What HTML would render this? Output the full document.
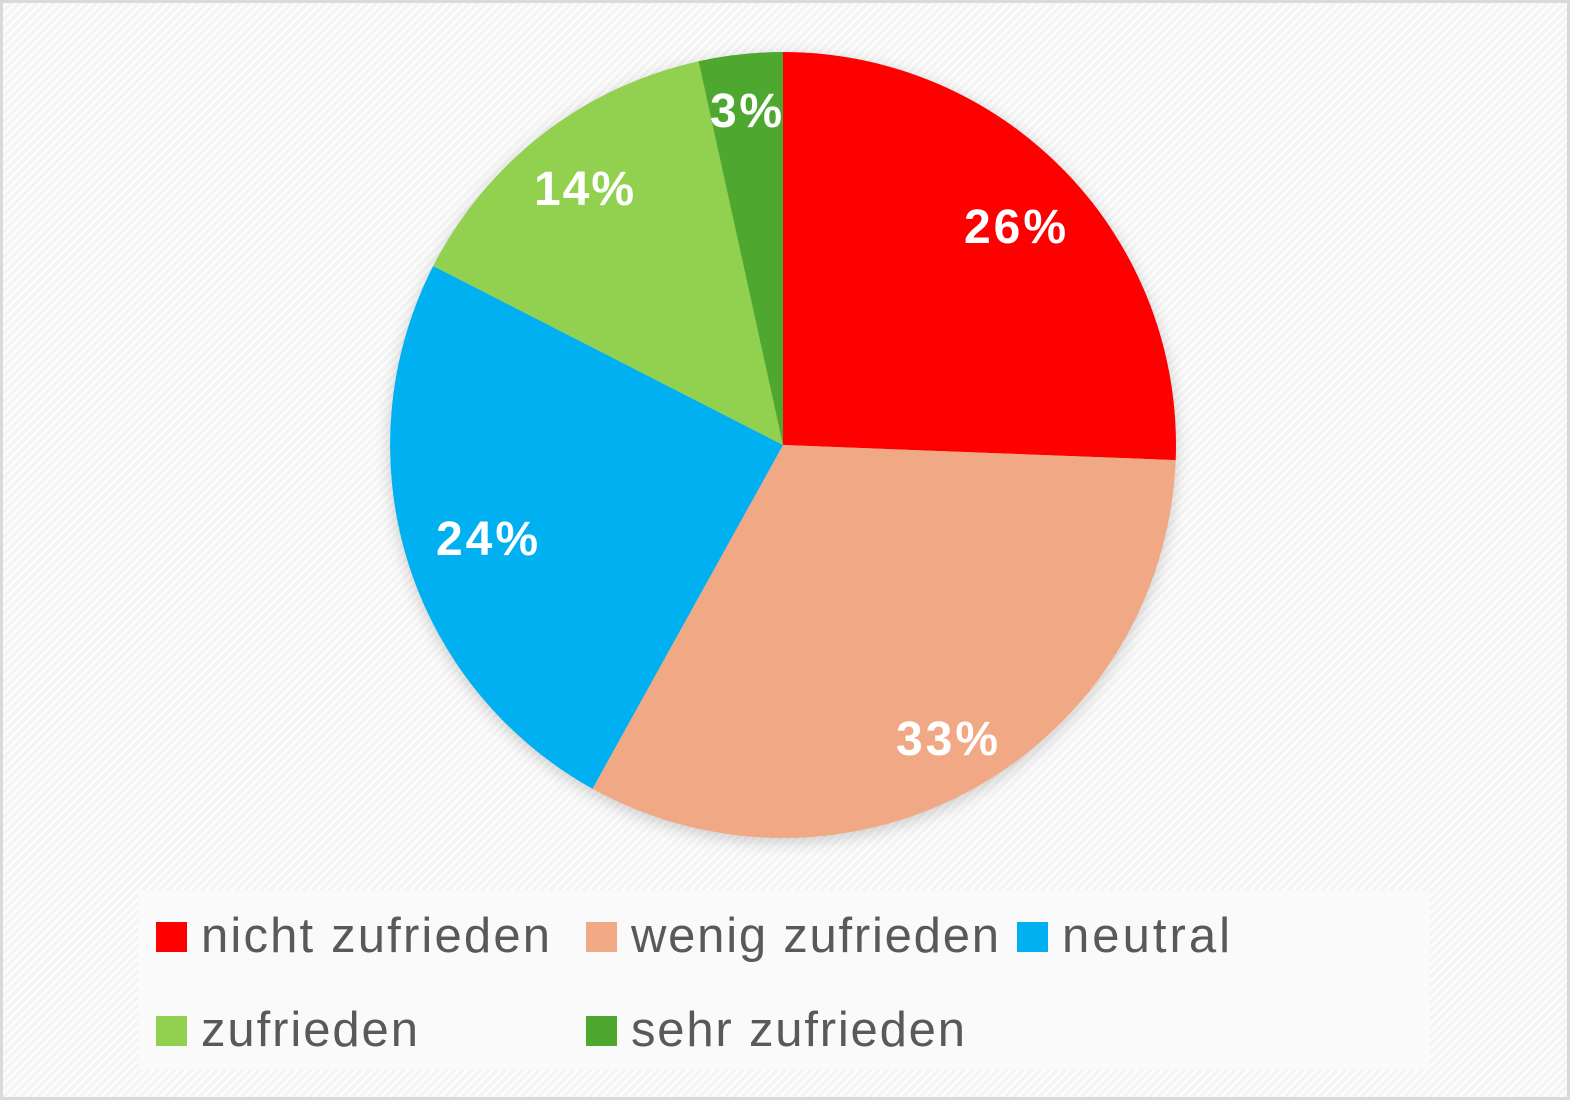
<!DOCTYPE html>
<html><head><meta charset="utf-8"><style>
html,body{margin:0;padding:0;}
body{width:1570px;height:1100px;overflow:hidden;font-family:"Liberation Sans",sans-serif;}
</style></head><body>
<svg width="1570" height="1100" xmlns="http://www.w3.org/2000/svg">
<defs>
<pattern id="h" width="6" height="6" patternUnits="userSpaceOnUse" patternTransform="rotate(-45)">
<rect width="6" height="6" fill="#f4f4f4"/><rect width="6" height="2.5" fill="#fdfdfd"/>
</pattern>
<filter id="s" x="-20%" y="-20%" width="140%" height="140%"><feGaussianBlur stdDeviation="8"/></filter>
</defs>
<rect x="0" y="0" width="1570" height="1100" fill="#d9d9d9"/>
<rect x="3" y="3" width="1564" height="1094" fill="url(#h)"/>
<rect x="138" y="890" width="1292" height="180" fill="#fafafa"/>
<circle cx="783" cy="449" r="393" fill="#000" opacity="0.18" filter="url(#s)"/>
<g>
<path d="M783,445 L783,52 A393,393 0 0 1 1175.7,460.1 Z" fill="#ff0000"/>
<path d="M783,445 L1175.7,460.1 A393,393 0 0 1 592.5,788.7 Z" fill="#f1a985"/>
<path d="M783,445 L592.5,788.7 A393,393 0 0 1 433.2,266 Z" fill="#00b0f0"/>
<path d="M783,445 L433.2,266 A393,393 0 0 1 698.6,61.2 Z" fill="#92d050"/>
<path d="M783,445 L698.6,61.2 A393,393 0 0 1 783,52 Z" fill="#4ea72e"/>
</g>
<g fill="#fff" font-weight="bold" font-size="48">
<text x="964" y="243" textLength="102">26%</text>
<text x="896" y="755" textLength="102">33%</text>
<text x="436" y="555" textLength="102">24%</text>
<text x="534" y="205" textLength="100">14%</text>
<text x="710" y="127" textLength="72">3%</text>
</g>
<g font-size="49" fill="#595959">
<rect x="156" y="922" width="31" height="30" fill="#ff0000"/>
<text x="201" y="952" textLength="349">nicht zufrieden</text>
<rect x="586" y="922" width="31" height="30" fill="#f1a985"/>
<text x="631" y="952" textLength="368">wenig zufrieden</text>
<rect x="1017" y="922" width="31" height="30" fill="#00b0f0"/>
<text x="1062" y="952" textLength="168">neutral</text>
<rect x="156" y="1016" width="31" height="30" fill="#92d050"/>
<text x="201" y="1046" textLength="217">zufrieden</text>
<rect x="586" y="1016" width="31" height="30" fill="#4ea72e"/>
<text x="631" y="1046" textLength="334">sehr zufrieden</text>
</g>
</svg>
</body></html>
